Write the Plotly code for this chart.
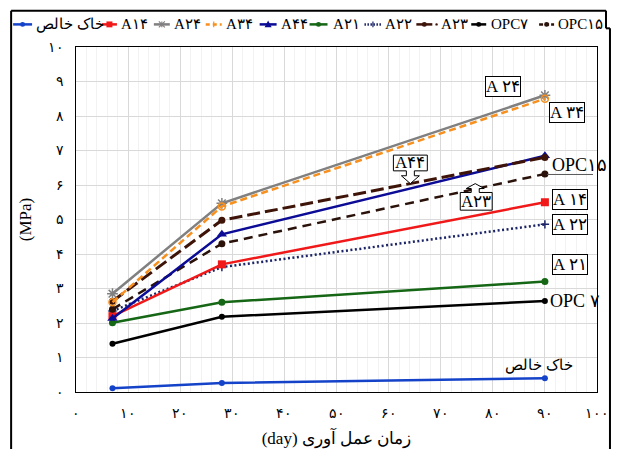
import plotly.graph_objects as go

# ---------------- data ----------------
days = [7, 28, 90]
soil = [0.11, 0.26, 0.40]
a14 = [2.2, 3.7, 5.5]
a24 = [2.85, 5.47, 8.6]
a34 = [2.6, 5.38, 8.5]
a44 = [2.13, 4.57, 6.85]
a21 = [2.01, 2.6, 3.2]
a22 = [2.35, 3.62, 4.86]
a23 = [2.63, 4.98, 6.8]
opc7 = [1.4, 2.18, 2.64]
opc15 = [2.4, 4.3, 6.32]

names = ["خاک خالص", "A۱۴", "A۲۴", "A۳۴", "A۴۴", "A۲۱", "A۲۲", "A۲۳", "OPC۷", "OPC۱۵"]
point_labels = ["A ۲۴", "A ۳۴", "OPC۱۵", "A ۱۴", "A ۲۲", "A ۲۱", "OPC ۷", "خاک خالص", "A۴۴", "A۲۳"]

x_tickvals = [0, 10, 20, 30, 40, 50, 60, 70, 80, 90, 100]
x_ticktext = ["۰", "۱۰", "۲۰", "۳۰", "۴۰", "۵۰", "۶۰", "۷۰", "۸۰", "۹۰", "۱۰۰"]
y_tickvals = [0, 1, 2, 3, 4, 5, 6, 7, 8, 9, 10]
y_ticktext = ["۰", "۱", "۲", "۳", "۴", "۵", "۶", "۷", "۸", "۹", "۱۰"]

x_title = "(day) زمان عمل آوری"
y_title = "(MPa)"

# ---------------- layout geometry ----------------
W, H = 621, 457
L, R, T, B = 76, 23, 47, 59
PW = W - L - R
PH = H - T - B
BOT = H - B

def X(px):
    return (px - L) / PW

def Y(py):
    return (BOT - py) / PH

FONT = "Times New Roman, Liberation Serif, DejaVu Serif, serif"

# styles: (values, name, color, dash, width, marker)
styles = [
    (soil, names[0], "#1443c9", "solid", 2.5, dict(symbol="circle", size=6)),
    (opc7, names[8], "#000000", "solid", 2.5, dict(symbol="circle", size=6)),
    (a21, names[5], "#156615", "solid", 2.5, dict(symbol="circle", size=7)),
    (a22, names[6], "#1b2466", "2px,2.5px", 2.5, dict(symbol="cross-thin-open", size=6)),
    (a14, names[1], "#f01818", "solid", 2.5, dict(symbol="square", size=8)),
    (opc15, names[9], "#2a120a", "9px,6px", 2.5, dict(symbol="circle", size=7)),
    (a44, names[4], "#0b0b96", "solid", 2.5, dict(symbol="triangle-up", size=9)),
    (a23, names[7], "#3e1408", "13px,5px", 3, dict(symbol="circle", size=7)),
    (a24, names[2], "#808080", "solid", 2.5, dict(symbol="asterisk-open", size=9)),
    (a34, names[3], "#f7901e", "7px,4px", 2.5, dict(symbol="circle-open", size=7)),
]

fig = go.Figure()
for vals, nm, col, dash, w, mk in styles:
    m = dict(mk)
    m["color"] = col
    if m["symbol"].endswith("open"):
        m["line"] = dict(color=col, width=1.5)
    fig.add_trace(go.Scatter(
        x=days, y=vals, name=nm, mode="lines+markers",
        line=dict(color=col, width=w, dash=dash),
        marker=m, showlegend=False, cliponaxis=False,
    ))

shapes = []
annotations = []

def seg(x0, y0, x1, y1, color="black", width=2, dash="solid"):
    shapes.append(dict(type="line", xref="paper", yref="paper",
                       x0=X(x0), x1=X(x1), y0=Y(y0), y1=Y(y1),
                       line=dict(color=color, width=width, dash=dash)))

# outer frame
seg(11, 456, 11, 10)
seg(11, 10, 607, 10)
seg(607, 10, 607, 28)
seg(607, 28, 611, 28)
seg(611, 28, 611, 456)

# ---------------- manual legend ----------------
leg_y = 24
legend_items = [
    # name index, line x0, x1, text x, color, dash, marker
    (0, 13, 32, 34, "#1443c9", "solid", "circle"),
    (1, 102, 117, 119, "#f01818", "solid", "square"),
    (2, 154, 170, 172, "#808080", "solid", "asterisk"),
    (3, 206, 222, 224, "#f7901e", "4px,3px", "plus"),
    (4, 260, 277, 279, "#0b0b96", "solid", "triangle"),
    (5, 310, 328, 331, "#156615", "solid", "circle"),
    (6, 365, 382, 384, "#1b2466", "1.5px,1.5px", "plus"),
    (7, 417, 433, 440, "#3e1408", "solid", "circle"),
    (8, 472, 487, 490, "#000000", "solid", "circle"),
    (9, 540, 555, 557, "#2a120a", "4px,2px", "circle"),
]
for idx, x0, x1, tx, col, dash, mk in legend_items:
    seg(x0, leg_y, x1, leg_y, color=col, width=2.5, dash=dash)
    cx = (x0 + x1) / 2
    if mk == "circle":
        shapes.append(dict(type="circle", xref="paper", yref="paper",
                           x0=X(cx - 2.5), x1=X(cx + 2.5), y0=Y(leg_y + 2.5), y1=Y(leg_y - 2.5),
                           fillcolor=col, line=dict(color=col, width=0)))
    elif mk == "square":
        shapes.append(dict(type="rect", xref="paper", yref="paper",
                           x0=X(cx - 3), x1=X(cx + 3), y0=Y(leg_y + 3), y1=Y(leg_y - 3),
                           fillcolor=col, line=dict(color=col, width=0)))
    elif mk == "triangle":
        p = "M{},{} L{},{} L{},{} Z".format(X(cx - 3.5), Y(leg_y + 3), X(cx + 3.5), Y(leg_y + 3), X(cx), Y(leg_y - 4))
        shapes.append(dict(type="path", xref="paper", yref="paper", path=p,
                           fillcolor=col, line=dict(color=col, width=0)))
    elif mk in ("asterisk", "plus"):
        seg(cx, leg_y - 3, cx, leg_y + 3, color=col, width=1.2)
        if mk == "asterisk":
            seg(cx - 3, leg_y - 3, cx + 3, leg_y + 3, color=col, width=1.2)
            seg(cx - 3, leg_y + 3, cx + 3, leg_y - 3, color=col, width=1.2)
    if idx == 7:
        shapes.append(dict(type="circle", xref="paper", yref="paper",
                           x0=X(436), x1=X(438.5), y0=Y(leg_y + 1.2), y1=Y(leg_y - 1.2),
                           fillcolor=col, line=dict(color=col, width=0)))
    annotations.append(dict(xref="paper", yref="paper", x=X(tx), y=Y(leg_y),
                            text=names[idx], showarrow=False, xanchor="left", yanchor="middle",
                            font=dict(family=FONT, size=15, color="black")))

# ---------------- point labels ----------------
def box_label(text, cx, cy, boxed=True, size=17):
    d = dict(xref="paper", yref="paper", x=X(cx), y=Y(cy), text=text, showarrow=False,
             xanchor="center", yanchor="middle", font=dict(family=FONT, size=size, color="black"))
    if boxed:
        d.update(bgcolor="white", bordercolor="black", borderwidth=1, borderpad=0)
    annotations.append(d)

box_label(point_labels[0], 503.5, 87)
box_label(point_labels[1], 568, 113.5)
box_label(point_labels[2], 580.5, 167, boxed=False, size=18)
box_label(point_labels[3], 571.3, 201.7)
box_label(point_labels[4], 571.3, 228)
box_label(point_labels[5], 570.5, 268.3)
box_label(point_labels[6], 576, 305, boxed=False, size=18)
box_label(point_labels[7], 540, 371, boxed=False, size=15)

# leader line for OPC15
seg(548, 176.7, 594, 176.7, color="#595959", width=1)

# callout A44 (arrow down)
p44 = ("M{},{} L{},{} L{},{} L{},{} L{},{} L{},{} L{},{} L{},{} L{},{} L{},{} L{},{} Z").format(
    X(394), Y(157), X(428), Y(157), X(428), Y(173), X(415), Y(173), X(415), Y(178),
    X(420), Y(178), X(411), Y(186), X(402), Y(178), X(407), Y(178), X(407), Y(173), X(394), Y(173))
shapes.append(dict(type="path", xref="paper", yref="paper", path=p44,
                   fillcolor="white", line=dict(color="black", width=1)))
annotations.append(dict(xref="paper", yref="paper", x=X(411), y=Y(165), text=point_labels[8],
                        showarrow=False, xanchor="center", yanchor="middle",
                        font=dict(family=FONT, size=17, color="black")))

# callout A23 (arrow up)
p23 = ("M{},{} L{},{} L{},{} L{},{} L{},{} L{},{} L{},{} L{},{} L{},{} L{},{} L{},{} Z").format(
    X(461), Y(213), X(493), Y(213), X(493), Y(195), X(480), Y(195), X(480), Y(191),
    X(485), Y(191), X(476), Y(186), X(467), Y(191), X(472), Y(191), X(472), Y(195), X(461), Y(195))
shapes.append(dict(type="path", xref="paper", yref="paper", path=p23,
                   fillcolor="white", line=dict(color="black", width=1)))
annotations.append(dict(xref="paper", yref="paper", x=X(477), y=Y(204), text=point_labels[9],
                        showarrow=False, xanchor="center", yanchor="middle",
                        font=dict(family=FONT, size=17, color="black")))

fig.update_layout(
    width=W, height=H,
    margin=dict(l=L, r=R, t=T, b=B, pad=0),
    paper_bgcolor="white", plot_bgcolor="white",
    showlegend=False,
    shapes=shapes, annotations=annotations,
    font=dict(family=FONT, color="black"),
    xaxis=dict(
        range=[0, 100], tickvals=x_tickvals, ticktext=x_ticktext,
        showgrid=True, gridcolor="#d9d9d9", gridwidth=1,
        minor=dict(dtick=2, showgrid=True, gridcolor="#f2f2f2", gridwidth=1),
        showline=True, linecolor="black", linewidth=1.2, mirror=True,
        ticks="", ticklabelstandoff=8, zeroline=False,
        tickfont=dict(family=FONT, size=14, color="black"),
        title=dict(text=x_title, font=dict(family=FONT, size=17, color="black"), standoff=12),
    ),
    yaxis=dict(
        range=[0, 10], tickvals=y_tickvals, ticktext=y_ticktext,
        showgrid=True, gridcolor="#d9d9d9", gridwidth=1,
        showline=True, linecolor="black", linewidth=1.2, mirror=True,
        ticks="", ticklabelstandoff=8, zeroline=False,
        tickfont=dict(family=FONT, size=14, color="black"),
        title=dict(text=y_title, font=dict(family=FONT, size=17, color="black"), standoff=12),
    ),
)

fig.write_html("out.html", config={"displayModeBar": False},
               post_script="document.body.style.margin='0';")
